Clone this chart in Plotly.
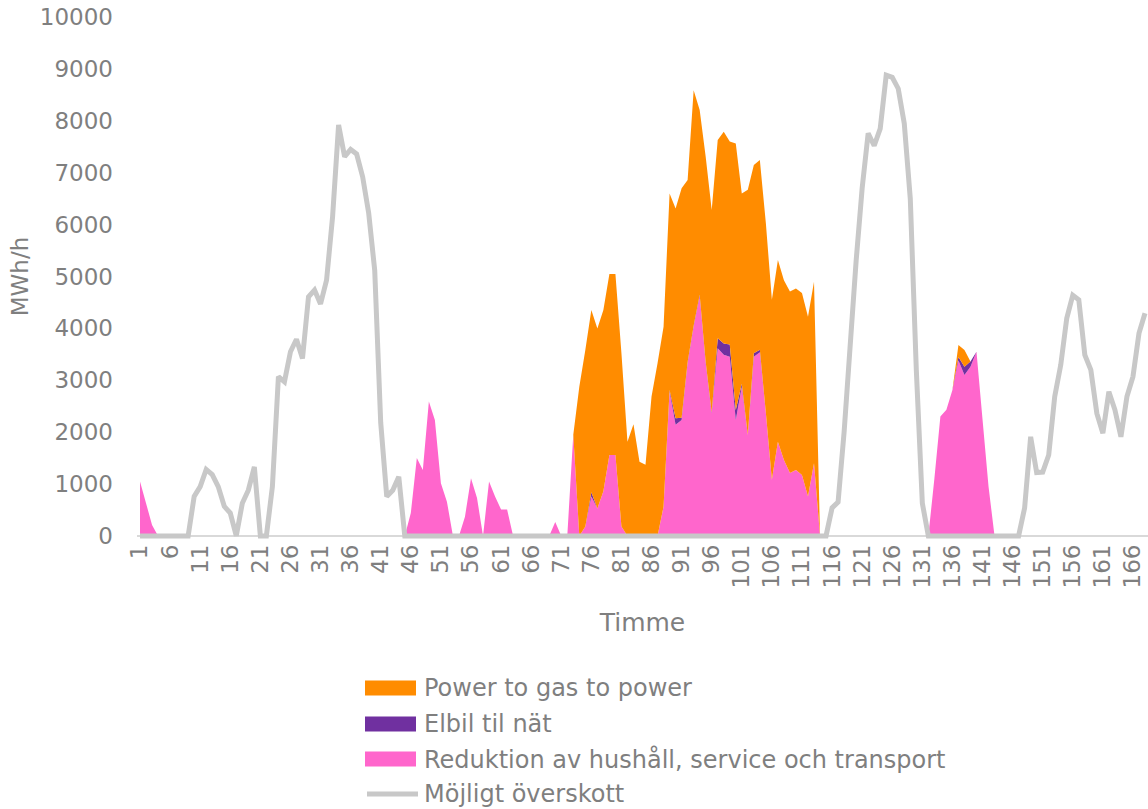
import plotly.graph_objects as go

hours = list(range(1, 169))

# Möjligt överskott (gray line)
overskott = ([0] * 9 +
             [760, 950, 1280, 1180, 950, 570, 440, 0, 630, 880, 1330, 0, 0, 950,
              3070, 2970, 3550, 3790, 3420, 4610, 4740, 4470, 4930, 6150, 7920,
              7310, 7450, 7360, 6920, 6220, 5120, 2180, 760, 880, 1140] +
             [0] * 71 +
             [540, 650, 2000, 3700, 5300, 6700, 7760, 7520, 7850, 8880, 8840,
              8620, 7950, 6500, 3200, 630] +
             [0] * 16 +
             [540, 1910, 1220, 1230, 1560, 2685, 3295, 4195, 4640, 4550, 3490,
              3200, 2360, 1980, 2780, 2430, 1910, 2685, 3070, 3905, 4290])

# Reduktion av hushåll, service och transport (pink)
reduktion = ([1050, 630, 210] + [0] * 42 +
             [440, 1500, 1270, 2590, 2235, 1015, 660, 0, 0, 370, 1110, 730, 0,
              1050, 760, 510, 510] +
             [0] * 7 +
             [270, 0, 0, 1950, 0, 180, 760, 530, 860, 1560, 1560, 180] +
             [0] * 6 +
             [565, 2780, 2140, 2235, 3330, 4030, 4620, 3330, 2360, 3615, 3490,
              3455, 2235, 2875, 1945, 3455, 3540, 2370, 1080, 1817, 1465, 1210,
              1270, 1175, 757, 1400, 0] +
             [0] * 18 +
             [1100, 2300, 2430, 2810, 3380, 3100, 3260, 3550, 2250, 950] +
             [0] * 26)

# Elbil til nät (purple)
elbil = ([0] * 75 + [80] + [0] * 12 +
         [30, 130, 40, 20, 20, 30, 20, 20, 195, 220, 235, 190, 60, 0, 65, 50] +
         [0] * 32 + [70, 160, 100] + [0] * 29)

# Power to gas to power (orange)
p2g = ([0] * 73 +
       [2875, 3405, 3515, 3470, 3495, 3490, 3490, 3340, 1817, 2150, 1430, 1370,
        2685, 3330, 3465, 3790, 4040, 4425, 3510, 4540, 3560, 3960, 3900, 3820,
        4080, 3910, 5140, 3665, 4725, 3630, 3655, 3655, 3470, 3503, 3465, 3500,
        3500, 3505, 3468, 3500, 0] +
       [0] * 22 + [230, 325] + [0] * 29)

series_names = ["Power to gas to power", "Elbil til nät",
                "Reduktion av hushåll, service och transport", "Möjligt överskott"]
series_colors = ["#FF8C00", "#7030A0", "#FF66CC", "#C8C8C8"]

tick_vals = list(range(1, 167, 5))
tick_text = [str(v) for v in tick_vals]
y_ticks = list(range(0, 10001, 1000))
y_text = [str(v) for v in y_ticks]

GRAY_TXT = "#7f7f7f"
FONT = "Verdana, DejaVu Sans, sans-serif"

W, H = 1148, 809
ML, MR, MT, MB = 137, 0, 14, 270
PW, PH = W - ML - MR, H - MT - MB


def px_x(px):
    return (px - ML) / PW


def px_y(py):
    return (H - MB - py) / PH


fig = go.Figure()
fig.add_trace(go.Scatter(x=hours, y=reduktion, name=series_names[2],
                         stackgroup="one", mode="none", fillcolor=series_colors[2],
                         line=dict(width=0)))
fig.add_trace(go.Scatter(x=hours, y=elbil, name=series_names[1],
                         stackgroup="one", mode="none", fillcolor=series_colors[1],
                         line=dict(width=0)))
fig.add_trace(go.Scatter(x=hours, y=p2g, name=series_names[0],
                         stackgroup="one", mode="none", fillcolor=series_colors[0],
                         line=dict(width=0)))
fig.add_trace(go.Scatter(x=hours, y=overskott, name=series_names[3],
                         mode="lines", line=dict(color=series_colors[3], width=5)))

# manual legend (swatches + labels)
shapes = []
annotations = []
row_centers = [688, 724, 759, 794]
for i, (name, col) in enumerate(zip(series_names, series_colors)):
    cy = row_centers[i]
    if i < 3:
        shapes.append(dict(type="rect", xref="paper", yref="paper",
                           x0=px_x(365), x1=px_x(416), y0=px_y(cy - 7.5), y1=px_y(cy + 7.5),
                           fillcolor=col, line=dict(width=0)))
    else:
        shapes.append(dict(type="line", xref="paper", yref="paper",
                           x0=px_x(367), x1=px_x(418), y0=px_y(cy), y1=px_y(cy),
                           line=dict(color=col, width=5)))
    annotations.append(dict(text=name, xref="paper", yref="paper",
                            x=px_x(422), y=px_y(cy), xanchor="left", yanchor="middle",
                            showarrow=False, font=dict(size=24, color=GRAY_TXT)))

fig.update_layout(
    width=W, height=H,
    margin=dict(l=ML, r=MR, t=MT, b=MB, pad=0),
    paper_bgcolor="white", plot_bgcolor="white",
    font=dict(family=FONT, size=22, color=GRAY_TXT),
    showlegend=False,
    shapes=shapes,
    annotations=annotations,
    xaxis=dict(range=[0.5, 168.5], tickmode="array", tickvals=tick_vals, ticktext=tick_text,
               tickangle=-90, showgrid=False, zeroline=False, showline=False, ticks="",
               automargin=False,
               tickfont=dict(size=23, color=GRAY_TXT),
               title=dict(text="Timme", font=dict(size=25, color=GRAY_TXT), standoff=25)),
    yaxis=dict(range=[-60, 10060], tickmode="array", tickvals=y_ticks, ticktext=y_text,
               showgrid=False, zeroline=True, zerolinecolor="#d9d9d9", zerolinewidth=1.5,
               showline=False, ticks="", ticklabelstandoff=23, automargin=False,
               tickfont=dict(size=23, color=GRAY_TXT),
               title=dict(text="MWh/h", font=dict(size=23, color=GRAY_TXT), standoff=4)),
)

fig.write_html("out.html", config={"displayModeBar": False},
               post_script="document.body.style.margin='0';document.body.style.overflow='hidden';")
